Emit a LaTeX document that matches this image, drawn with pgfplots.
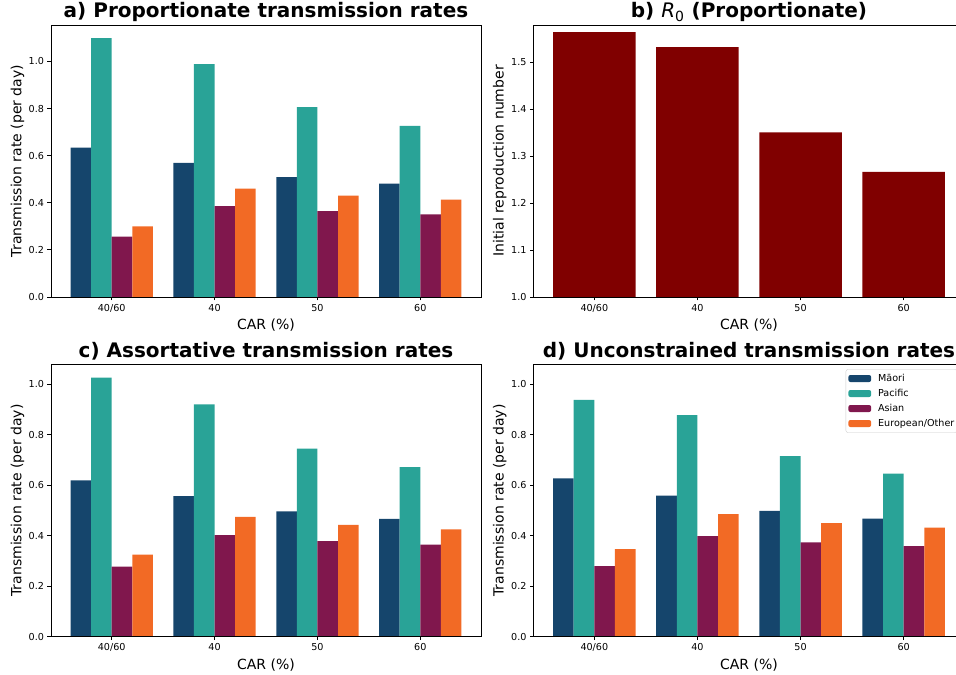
\documentclass[border=0pt]{standalone}
\usepackage{fontspec}
\setmainfont{DejaVu Sans}
\usepackage{pgfplots}
\usepackage{pgfplotstable}
\pgfplotsset{compat=1.18}

\definecolor{maori}{HTML}{15456C}
\definecolor{pacific}{HTML}{29A397}
\definecolor{asian}{HTML}{80174D}
\definecolor{euro}{HTML}{F26A25}
\definecolor{rzero}{HTML}{800000}

% transmission rates (per day), one row per CAR scenario
\pgfplotstableread{
x maori pacific asian euro
0 0.634 1.099 0.256 0.300
1 0.570 0.989 0.386 0.460
2 0.509 0.806 0.365 0.430
3 0.481 0.727 0.351 0.413
}\ratesProp
\pgfplotstableread{
x maori pacific asian euro
0 0.619 1.026 0.278 0.325
1 0.557 0.920 0.402 0.475
2 0.496 0.745 0.379 0.443
3 0.467 0.672 0.365 0.425
}\ratesAssort
\pgfplotstableread{
x maori pacific asian euro
0 0.627 0.938 0.280 0.347
1 0.559 0.878 0.398 0.486
2 0.498 0.715 0.374 0.450
3 0.468 0.646 0.359 0.432
}\ratesFree
\pgfplotstableread{
x r
0 1.565
1 1.533
2 1.351
3 1.267
}\rzeroProp

\pgfplotsset{
  every axis title shift=0pt,
  panel/.style={
    scale only axis, width=430bp, height=272bp,
    xmin=-0.59, xmax=3.59,
    xtick={0,1,2,3}, xticklabels={40/60,40,50,60},
    tick align=outside, xtick pos=bottom, ytick pos=left,
    major tick length=3.5bp,
    every tick/.style={line width=0.8bp, black},
    axis line style={line width=0.8bp, black},
    axis on top,
    ticklabel style={font=\fontsize{9.6bp}{11bp}\selectfont},
    /pgf/number format/fixed, /pgf/number format/fixed zerofill,
    /pgf/number format/precision=1,
    /pgf/number format/assume math mode=true,
    xlabel={CAR (\%)},
    label style={font=\fontsize{14bp}{16bp}\selectfont},
    xlabel style={at={(axis description cs:0.5,-0.103)}, anchor=center},
    ylabel style={at={(axis description cs:-0.078,0.5)}, anchor=center},
    title style={font=\fontsize{20bp}{23bp}\selectfont\bfseries,
                 at={(axis description cs:0.5,1.047)}, anchor=center},
    ybar, bar width=0.2,
  },
  groups/.style={
    ymin=0, ytick={0,0.2,0.4,0.6,0.8,1.0},
    ylabel={Transmission rate (per day)},
  },
}

\begin{document}
\begin{tikzpicture}
\useasboundingbox (0,0) rectangle (956bp,675bp);
\clip (0,0) rectangle (956bp,675bp);

% a) proportionate mixing
\begin{axis}[panel, groups, at={(51bp,378bp)}, anchor=south west,
  ymax=1.155, title={a) Proportionate transmission rates}]
\addplot[fill=maori, draw=none, bar shift=-0.3] table[x=x,y=maori]{\ratesProp};
\addplot[fill=pacific, draw=none, bar shift=-0.1] table[x=x,y=pacific]{\ratesProp};
\addplot[fill=asian, draw=none, bar shift=0.1] table[x=x,y=asian]{\ratesProp};
\addplot[fill=euro, draw=none, bar shift=0.3] table[x=x,y=euro]{\ratesProp};
\end{axis}

% b) initial reproduction number
\begin{axis}[panel, at={(533.5bp,378bp)}, anchor=south west, width=431bp,
  ymin=1.0, ymax=1.58, ytick={1.0,1.1,1.2,1.3,1.4,1.5},
  ylabel={Initial reproduction number},
  title={b) {\mdseries\itshape R}\textsubscript{\mdseries 0} (Proportionate)}]
\addplot[fill=rzero, draw=none, bar shift=0, bar width=0.8] table[x=x,y=r]{\rzeroProp};
\end{axis}

% c) assortative mixing
\begin{axis}[panel, groups, at={(51bp,38.3bp)}, anchor=south west, height=272.4bp,
  ymax=1.079, title={c) Assortative transmission rates}]
\addplot[fill=maori, draw=none, bar shift=-0.3] table[x=x,y=maori]{\ratesAssort};
\addplot[fill=pacific, draw=none, bar shift=-0.1] table[x=x,y=pacific]{\ratesAssort};
\addplot[fill=asian, draw=none, bar shift=0.1] table[x=x,y=asian]{\ratesAssort};
\addplot[fill=euro, draw=none, bar shift=0.3] table[x=x,y=euro]{\ratesAssort};
\end{axis}

% d) unconstrained fit
\begin{axis}[panel, groups, at={(533.5bp,38.3bp)}, anchor=south west,
  width=431bp, height=272.4bp,
  ymax=1.079, title={d) Unconstrained transmission rates},
  legend cell align=left,
  legend image code/.code={\fill[#1, fill opacity=1] (0bp,-3.5bp) rectangle (22.7bp,3.5bp);},
  legend style={at={(axis description cs:0.7244,0.9816)}, anchor=north west,
    draw=black!20, rounded corners=2bp, fill=white, fill opacity=0.8, text opacity=1,
    font=\fontsize{9.6bp}{11bp}\selectfont,
    inner xsep=2.5bp, inner ysep=4.5bp, row sep=6bp, column sep=7bp,
    nodes={inner sep=0pt, text height=7bp, text depth=2bp}}]
\addplot[fill=maori, draw=none, bar shift=-0.3] table[x=x,y=maori]{\ratesFree};
\addlegendentry{Māori}
\addplot[fill=pacific, draw=none, bar shift=-0.1] table[x=x,y=pacific]{\ratesFree};
\addlegendentry{Pacific}
\addplot[fill=asian, draw=none, bar shift=0.1] table[x=x,y=asian]{\ratesFree};
\addlegendentry{Asian}
\addplot[fill=euro, draw=none, bar shift=0.3] table[x=x,y=euro]{\ratesFree};
\addlegendentry{European/Other}
\end{axis}
\end{tikzpicture}
\end{document}
